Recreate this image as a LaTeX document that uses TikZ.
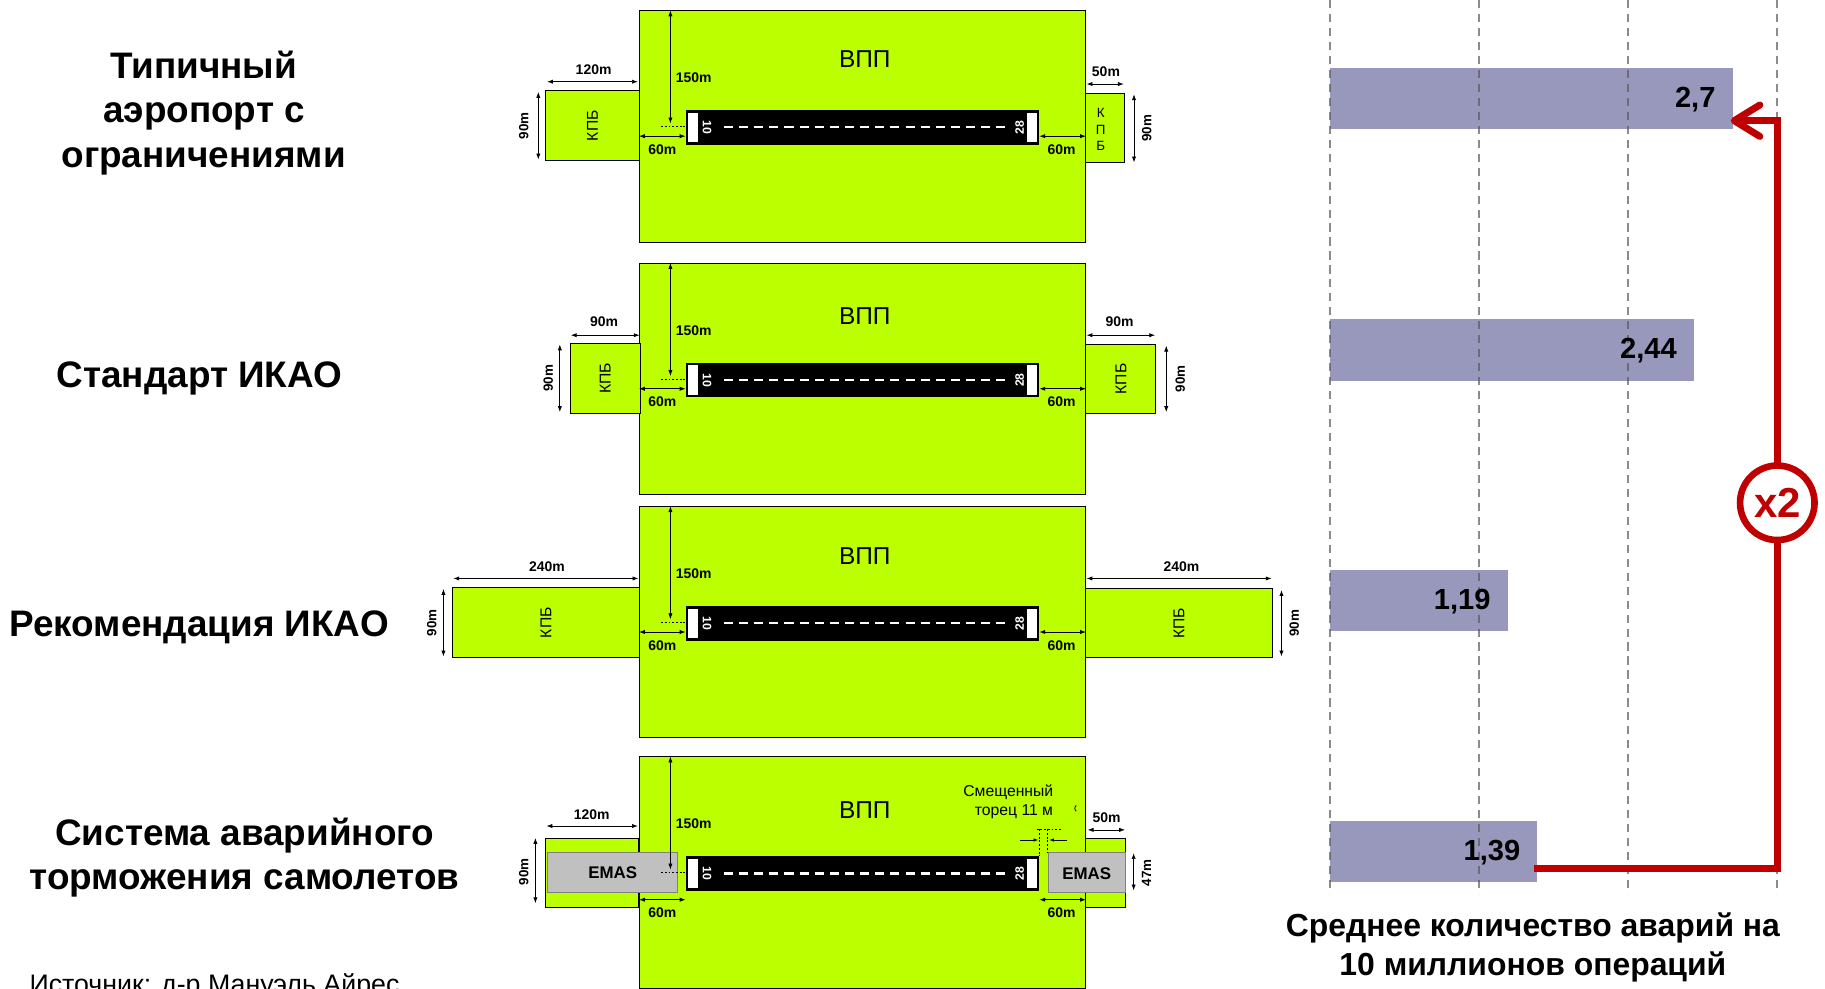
\documentclass[tikz,border=0pt]{standalone}
\usepackage{fontspec}
\setmainfont{Liberation Sans}
\usetikzlibrary{arrows.meta}
\definecolor{grass}{RGB}{187,255,0}
\definecolor{emasgray}{RGB}{192,192,192}
\definecolor{barcol}{RGB}{152,152,188}
\definecolor{redcol}{RGB}{192,0,0}
\definecolor{gridcol}{RGB}{90,90,90}
\newcommand{\fsz}[1]{\fontsize{#1}{#1}\selectfont}

\tikzset{
  zone/.style={draw=black, line width=0.8pt, fill=grass},
  emasbox/.style={draw=black!50, line width=0.8pt, fill=emasgray},
  dimline/.style={draw=black, line width=0.6pt, >={Latex[length=5pt,width=3.6pt]}, <->},
  dimone/.style={draw=black, line width=0.6pt, >={Latex[length=4pt,width=3pt]}, ->},
  dotline/.style={draw=black, line width=0.7pt, dash pattern=on 1.6pt off 1.6pt},
  dimlbl/.style={font=\bfseries\fsz{12}, inner sep=0pt},
  vlbl/.style={font=\bfseries\fsz{11.5}, inner sep=0pt, rotate=90},
  kpb/.style={font=\fsz{13.5}, inner sep=0pt, rotate=90},
  vpp/.style={font=\fsz{21}, inner sep=0pt},
  rwnum/.style={font=\bfseries\fsz{10.5}, text=white, inner sep=0pt},
  emaslbl/.style={font=\bfseries\fsz{14.5}, inner sep=0pt},
  title/.style={font=\bfseries\fsz{31.7}, inner sep=0pt, anchor=base},
  barval/.style={font=\bfseries\fsz{25}, inner sep=0pt, anchor=east},
  bar/.style={fill=barcol, draw=none, inner sep=0pt, outer sep=0pt, anchor=west, minimum height=53pt},
  gridl/.style={draw=gridcol, draw opacity=0.7, line width=1.7pt, dash pattern=on 7pt off 5pt},
  redline/.style={draw=redcol, line width=6pt},
  caption/.style={font=\bfseries\fsz{27.4}, inner sep=0pt, anchor=base},
}

% main runway strip rectangle
\newcommand{\rwbase}[1]{%
  \path[zone] (549,#1) rectangle (933,#1+199);
}
% runway and its dimensions: #1 top, #2 prefix, #3 offset of 60m dims, #4 offset of label
\newcommand{\rwtop}[4]{%
  \fill[black] (589,#1+85.5) rectangle (893,#1+115.5);
  \fill[white] (591,#1+88) rectangle (599.5,#1+113);
  \fill[white] (882.5,#1+88) rectangle (891,#1+113);
  \draw[white, line width=1.8pt, dash pattern=on 7.8pt off 5.2pt] (622,#1+100.5) -- (864,#1+100.5);
  \node[rwnum, rotate=-90] (#2ten) at (607.5,#1+100.5) {10};
  \node[rwnum, rotate=90] (#2twe) at (876,#1+100.5) {28};
  \node[vpp] (#2vpp) at (743,#1+#4) {ВПП};
  \draw[dimline] (576,#1) -- (576,#1+97);
  \draw[dotline] (568,#1+99.8) -- (590,#1+99.8);
  \node[dimlbl] (#2hgt) at (596,#1+58) {150m};
  \draw[dimline] (549,#1+#3) -- (589,#1+#3);
  \draw[dimline] (893,#1+#3) -- (933,#1+#3);
  \node[dimlbl] (#2lfa) at (569,#1+#3+11.5) {60m};
  \node[dimlbl] (#2lfb) at (912,#1+#3+11.5) {60m};
}

\begin{document}
\begin{tikzpicture}[x=1pt, y=-1pt]
\useasboundingbox (0,0) rectangle (1568,849);
\clip (0,0) rectangle (1568,849);

% ---------- titles ----------
\node[title] (t1a) at (175,67.7) {Типичный};
\node[title] (t1b) at (175.3,105.6) {аэропорт с};
\node[title] (t1c) at (175,143.5) {ограничениями};
\node[title] (t2) at (171.4,333) {Стандарт ИКАО};
\node[title] (t3) at (171.1,546.5) {Рекомендация ИКАО};
\node[title] (t4a) at (210.2,726) {Система аварийного};
\node[title] (t4b) at (210,764) {торможения самолетов};
\node[font=\fsz{23}, inner sep=0pt, anchor=base west] (src) at (25.2,853.5) {Источник: д-р Мануэль Айрес};

% ---------- row 1 ----------
\rwbase{9}
\path[zone] (469,78) rectangle (549,138);
\node[kpb] (r1kpbl) at (509,108) {КПБ};
\draw[dimline] (470,70.2) -- (548,70.2);
\node[dimlbl] (r1wl) at (510,59.6) {120m};
\draw[dimline] (462.5,79) -- (462.5,137);
\node[vlbl] (r1hl) at (450,108) {90m};
\path[zone] (932.5,80) rectangle (966,140);
\node[font=\fontsize{11.5}{14}\selectfont, align=center, inner sep=0pt] (r1kpbr) at (945.7,111.2) {К\\П\\Б};
\draw[dimline] (933.6,72.2) -- (965.5,72.2);
\node[dimlbl] (r1wr) at (950.2,61.6) {50m};
\draw[dimline] (974.3,81) -- (974.3,139.5);
\node[vlbl] (r1hr) at (985.2,110.3) {90m};
\rwtop{9}{ra}{108}{42}

% ---------- row 2 ----------
\rwbase{226}
\path[zone] (490,295) rectangle (550,355);
\node[kpb] (r2kpbl) at (520,325) {КПБ};
\draw[dimline] (490.5,288) -- (549.5,288);
\node[dimlbl] (r2wl) at (519,276) {90m};
\draw[dimline] (481,296) -- (481,354);
\node[vlbl] (r2hl) at (471,325) {90m};
\path[zone] (933,296) rectangle (993,355);
\node[kpb] (r2kpbr) at (963,325.5) {КПБ};
\draw[dimline] (933.5,288) -- (992.5,288);
\node[dimlbl] (r2wr) at (962,276) {90m};
\draw[dimline] (1002,297) -- (1002,354);
\node[vlbl] (r2hr) at (1014,325.5) {90m};
\rwtop{226}{rb}{108}{46}

% ---------- row 3 ----------
\rwbase{435}
\path[zone] (389,505) rectangle (549,565);
\node[kpb] (r3kpbl) at (469,535) {КПБ};
\draw[dimline] (389.5,497) -- (548.5,497);
\node[dimlbl] (r3wl) at (470,487) {240m};
\draw[dimline] (381,506) -- (381,564);
\node[vlbl] (r3hl) at (371,535) {90m};
\path[zone] (933,506) rectangle (1093,565);
\node[kpb] (r3kpbr) at (1013,535.5) {КПБ};
\draw[dimline] (933.5,497) -- (1092.5,497);
\node[dimlbl] (r3wr) at (1015,487) {240m};
\draw[dimline] (1101,507) -- (1101,564);
\node[vlbl] (r3hr) at (1112,535.5) {90m};
\rwtop{435}{rc}{108}{43}

% ---------- row 4 ----------
\rwbase{650}
\path[zone] (469,720) rectangle (548.5,779.5);
\path[emasbox] (470,732.3) rectangle (582,766.5);
\node[emaslbl] (r4eml) at (526.4,749.8) {EMAS};
\draw[dimline] (469.5,709.7) -- (548,709.7);
\node[dimlbl] (r4wl) at (508.4,700.2) {120m};
\draw[dimline] (460,720) -- (460,776);
\node[vlbl] (r4hl) at (450,749) {90m};
\path[zone] (933,720) rectangle (967,779.6);
\path[emasbox] (901,732.6) rectangle (967,767);
\node[emaslbl] (r4emr) at (933.6,750.3) {EMAS};
\draw[dimline] (934.5,713) -- (966.6,713);
\node[dimlbl] (r4wr) at (950.8,702.5) {50m};
\draw[dimline] (974,733) -- (974,765);
\node[vlbl] (r4hr) at (985,750) {47m};
\rwtop{650}{rd}{123}{46}
% displaced threshold
\draw[dotline] (893,712.5) -- (893,735.5);
\draw[dotline] (900,712.5) -- (900,732.6);
\draw[dotline] (890.7,712.5) -- (913,712.5);
\draw[dimone] (876,721.7) -- (892,721.7);
\draw[dimone] (917,721.7) -- (901.5,721.7);
\node[font=\fsz{13.5}, inner sep=0pt, anchor=base] (dt1) at (866.3,684.5) {Смещенный};
\node[font=\fsz{13.5}, inner sep=0pt, anchor=base] (dt2) at (871.2,700.5) {торец 11 м};
\draw[line width=0.7pt] (924.6,692) .. controls (923,694.5) .. (924.6,697);

% ---------- chart ----------
\node[bar, minimum width=345.6pt] (b1) at (1143,84.5) {};
\node[bar, minimum width=312.3pt] (b2) at (1143,300.5) {};
\node[bar, minimum width=152.3pt] (b3) at (1143,516) {};
\node[bar, minimum width=177.9pt] (b4) at (1143,731.5) {};
\foreach \k in {0,...,3} {
  \draw[gridl] (1143+\k*128,0) -- (1143+\k*128,768);
}
\node[barval] (v1) at ([xshift=-14.5pt,yshift=-1pt]b1.east) {2,7};
\node[barval] (v2) at ([xshift=-14.5pt,yshift=-1pt]b2.east) {2,44};
\node[barval] (v3) at ([xshift=-14.5pt,yshift=-1pt]b3.east) {1,19};
\node[barval] (v4) at ([xshift=-14.5pt,yshift=-1pt]b4.east) {1,39};

\coordinate (rs) at (1318,746);
\coordinate (turn) at (1527,432);
\coordinate (re) at (1487,103.7);
\draw[redline, -{Straight Barb[length=22pt,width=27pt,round]}] (rs) -| (turn) |- (re);
\node[circle, draw=redcol, line width=5.7pt, fill=white, minimum size=64pt, inner sep=0pt,
      text=redcol, font=\bfseries\fsz{36}] (x2) at (turn) {x2};

\node[caption] (cap1) at (1317,805) {Среднее количество аварий на};
\node[caption] (cap2) at (1317,838) {10 миллионов операций};
\end{tikzpicture}
\end{document}
